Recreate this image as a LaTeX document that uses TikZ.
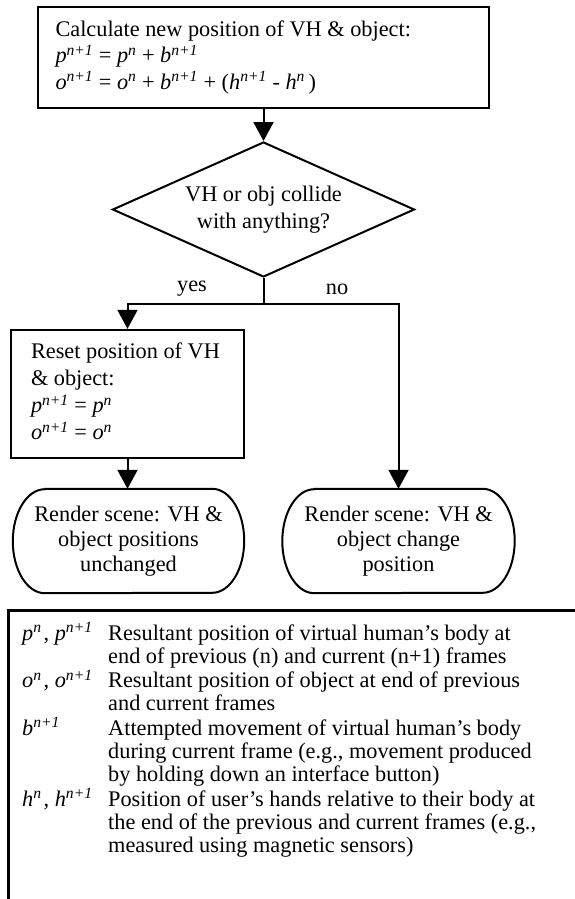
\documentclass[tikz,border=0pt]{standalone}
\usepackage{fontspec}
\setmainfont{Liberation Serif}
\usetikzlibrary{arrows.meta,shapes.geometric}
\newcommand\vr[2]{\textit{#1}\textsuperscript{\textit{#2}}}
\begin{document}
\begin{tikzpicture}[x=1pt,y=-1pt,
  every node/.style={font=\fontsize{22.3}{25}\selectfont},
  box/.style={draw, line width=2.4pt, inner sep=0pt},
  rbox/.style={inner sep=0pt},
  line/.style={line width=2pt},
  conn/.style={line width=2pt, -{Triangle[length=19pt,width=20pt]}},
  lbl/.style={inner sep=0pt}]
\useasboundingbox (0,0) rectangle (575,899);

\node[box, minimum width=451pt, minimum height=101pt,
      font=\fontsize{22.3}{26.5}\selectfont] (calc) at (263.5,57.5)
  {\makebox[416pt][l]{\begin{tabular}{@{}l@{}}Calculate new position of VH \& object:\\
   \vr{p}{n+1} = \vr{p}{n} + \vr{b}{n+1}\\
   \vr{o}{n+1} = \vr{o}{n} + \vr{b}{n+1} + (\vr{h}{n+1} - \vr{h}{n}\,)\end{tabular}}};

\node[diamond, draw, line width=2pt, minimum width=302pt, minimum height=135pt,
      inner sep=0pt, aspect=2.24, font=\fontsize{22.3}{27}\selectfont] (dia) at (263.5,209.5)
  {\begin{tabular}{@{}c@{}}VH or obj collide\\with anything?\end{tabular}};

\node[box, minimum width=233pt, minimum height=128pt,
      font=\fontsize{22.3}{27}\selectfont] (reset) at (127.5,394)
  {\makebox[193pt][l]{\begin{tabular}{@{}l@{}}Reset position of VH\\ \& object:\\
   \vr{p}{n+1} = \vr{p}{n}\\ \vr{o}{n+1} = \vr{o}{n}\end{tabular}}};

\node[rbox, minimum width=231pt, minimum height=104pt] (r1) at (128.5,541)
  {\begin{tabular}{@{}c@{}}Render scene: VH \&\\object positions\\unchanged\end{tabular}};
\node[rbox, minimum width=232pt, minimum height=104pt] (r2) at (398.5,541)
  {\begin{tabular}{@{}c@{}}Render scene: VH \&\\object change\\position\end{tabular}};

\foreach \n in {r1,r2}{
  \draw[line width=2pt]
    ([xshift=32pt]\n.north west) -- ([xshift=-32pt]\n.north east)
    arc[start angle=90, end angle=-90, x radius=32pt, y radius=52pt]
    -- ([xshift=32pt]\n.south west)
    arc[start angle=270, end angle=90, x radius=32pt, y radius=52pt] -- cycle;
}

\coordinate (split) at (263.5,304);
\draw[conn] (calc.south) -- (calc.south |- dia.north);
\draw[line] (dia.south) -- (split);
\draw[conn] (split) -| (reset.north);
\draw[conn] (split) -| (r2.north);
\draw[conn] (reset.south) -- (reset.south |- r1.north);

\node[lbl] (yes) at (192,289) {yes};
\node[lbl] (no) at (337,289) {no};

\coordinate (lgtl) at (8,610);
\coordinate (lgtr) at (576,610);
\coordinate (lgbl) at (8,900);
\draw[line width=3pt] (lgtr) -- (lgtl) -- (lgbl);

\node[anchor=base west, inner sep=0pt, font=\fontsize{22.3}{23}\selectfont] (legend) at (22,640)
 {\begin{tabular}[t]{@{}p{86pt}@{}l@{}}
 \vr{p}{n}\hspace{2pt}, \vr{p}{n+1} & Resultant position of virtual human’s body at\\
 & end of previous (n) and current (n+1) frames\\
 \vr{o}{n}\hspace{2pt}, \vr{o}{n+1} & Resultant position of object at end of previous\\
 & and current frames\\
 \vr{b}{n+1} & Attempted movement of virtual human’s body\\
 & during current frame (e.g., movement produced\\
 & by holding down an interface button)\\
 \vr{h}{n}\hspace{2pt}, \vr{h}{n+1} & Position of user’s hands relative to their body at\\
 & the end of the previous and current frames (e.g.,\\
 & measured using magnetic sensors)
 \end{tabular}};
\end{tikzpicture}
\end{document}
